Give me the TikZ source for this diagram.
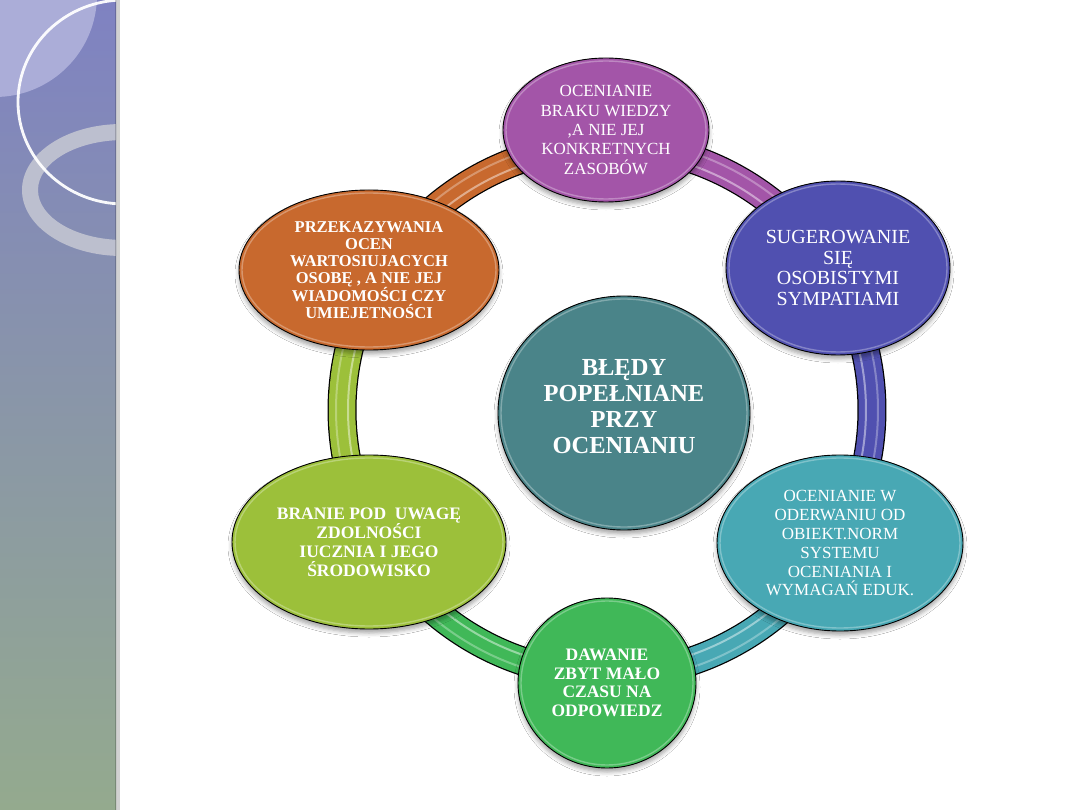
\documentclass[tikz,border=0pt]{standalone}
\usepackage{fontspec}
\setmainfont{Liberation Serif}
\usetikzlibrary{shapes.geometric,shadows.blur}
\definecolor{cPu}{HTML}{A355A8}
\definecolor{cOr}{HTML}{C8692E}
\definecolor{cBv}{HTML}{5050B0}
\definecolor{cTe}{HTML}{48A8B4}
\definecolor{cGr}{HTML}{40B858}
\definecolor{cYg}{HTML}{9CC03A}
\definecolor{cCe}{HTML}{4A8489}
\definecolor{sideTop}{HTML}{7F82C2}
\definecolor{sideMid}{HTML}{8A96B0}
\definecolor{sideBot}{HTML}{94AA8E}
\definecolor{sideLight}{HTML}{ABADD8}
\definecolor{ringGray}{HTML}{C3C5D2}
\newcommand\glossring[3]{\draw[white,opacity=.3,line width=1.4pt] (#1.center) ellipse[x radius=#2, y radius=#3];}
\tikzset{
  bub/.style={ellipse, draw=black, line width=0.9pt, inner sep=0pt, text=white, align=center,
    blur shadow={shadow xshift=0pt, shadow yshift=-4pt, shadow blur radius=4pt, shadow opacity=35}},
}
\begin{document}
\begin{tikzpicture}[x=1pt,y=-1pt]
\useasboundingbox (0,0) rectangle (1080,810);
\fill[white] (0,0) rectangle (1080,810);
% sidebar
\shade[top color=sideTop, middle color=sideMid, bottom color=sideBot] (0,0) rectangle (116,810);
\begin{scope}
  \clip (0,0) rectangle (116,810);
  \fill[sideLight] (-5,-5) circle[radius=102];
  \fill[ringGray, opacity=.9, even odd rule] (122,190) ellipse[x radius=100, y radius=66]
        (124,190) ellipse[x radius=86, y radius=50];
  \draw[white, opacity=.95, line width=2.8pt] (124,102) ellipse[x radius=106, y radius=102];
\end{scope}
\fill[black, opacity=.18] (115,0) rectangle (120,810);
% ring bands
\foreach \a/\b/\c in {210/270/cOr, 270/330/cPu, 330/390/cBv, 30/90/cTe, 90/150/cGr, 150/210/cYg}{
  \draw[black, line width=29pt] plot[domain=\a:\b, samples=50] ({607+265*cos(\x)},{410+265*sin(\x)});
  \draw[\c, line width=26.5pt] plot[domain=\a:\b, samples=50] ({607+265*cos(\x)},{410+265*sin(\x)});
  \draw[white, opacity=.45, line width=2pt] plot[domain=\a:\b, samples=50] ({607+259*cos(\x)},{410+259*sin(\x)});
  \draw[white, opacity=.3, line width=2pt] plot[domain=\a:\b, samples=50] ({607+271*cos(\x)},{410+271*sin(\x)});
}
% nodes
\node[bub, fill=cPu, minimum width=206pt, minimum height=144pt, font={\fontsize{17}{19.3}\selectfont}] (top) at (606,130)
  {OCENIANIE\\BRAKU WIEDZY\\,A NIE JEJ\\KONKRETNYCH\\ZASOBÓW};
\node[bub, fill=cOr, minimum width=260pt, minimum height=160pt, font={\bfseries\fontsize{16.5}{17}\selectfont}] (ul) at (369,270)
  {PRZEKAZYWANIA\\OCEN\\WARTOSIUJACYCH\\OSOBĘ , A NIE JEJ\\WIADOMOŚCI CZY\\UMIEJETNOŚCI};
\node[bub, fill=cBv, minimum width=224pt, minimum height=174pt, font={\fontsize{20}{20.5}\selectfont}] (ur) at (838,268)
  {SUGEROWANIE\\SIĘ\\OSOBISTYMI\\SYMPATIAMI};
\node[bub, fill=cTe, minimum width=246pt, minimum height=176pt, font={\fontsize{17}{19}\selectfont}] (lr) at (840,543)
  {OCENIANIE W\\ODERWANIU OD\\OBIEKT.NORM\\SYSTEMU\\OCENIANIA I\\WYMAGAŃ EDUK.};
\node[bub, fill=cGr, minimum width=178pt, minimum height=170pt, font={\bfseries\fontsize{17.5}{18.5}\selectfont}] (bot) at (607,683)
  {DAWANIE\\ZBYT MAŁO\\CZASU NA\\ODPOWIEDZ};
\node[bub, fill=cYg, minimum width=274pt, minimum height=174pt, font={\bfseries\fontsize{17.5}{19}\selectfont}] (ll) at (369,542)
  {BRANIE POD\ \ UWAGĘ\\ZDOLNOŚCI\\IUCZNIA I JEGO\\ŚRODOWISKO};
\node[bub, fill=cCe, minimum width=252pt, minimum height=234pt, font={\bfseries\fontsize{24.5}{26}\selectfont}] (ctr) at (624,413)
  {BŁĘDY\\POPEŁNIANE\\PRZY\\OCENIANIU\\[-12pt]};
\glossring{top}{100}{69}
\glossring{ul}{127}{77}
\glossring{ur}{109}{84}
\glossring{lr}{120}{85}
\glossring{bot}{86}{82}
\glossring{ll}{134}{84}
\glossring{ctr}{123}{114}
\end{tikzpicture}
\end{document}
